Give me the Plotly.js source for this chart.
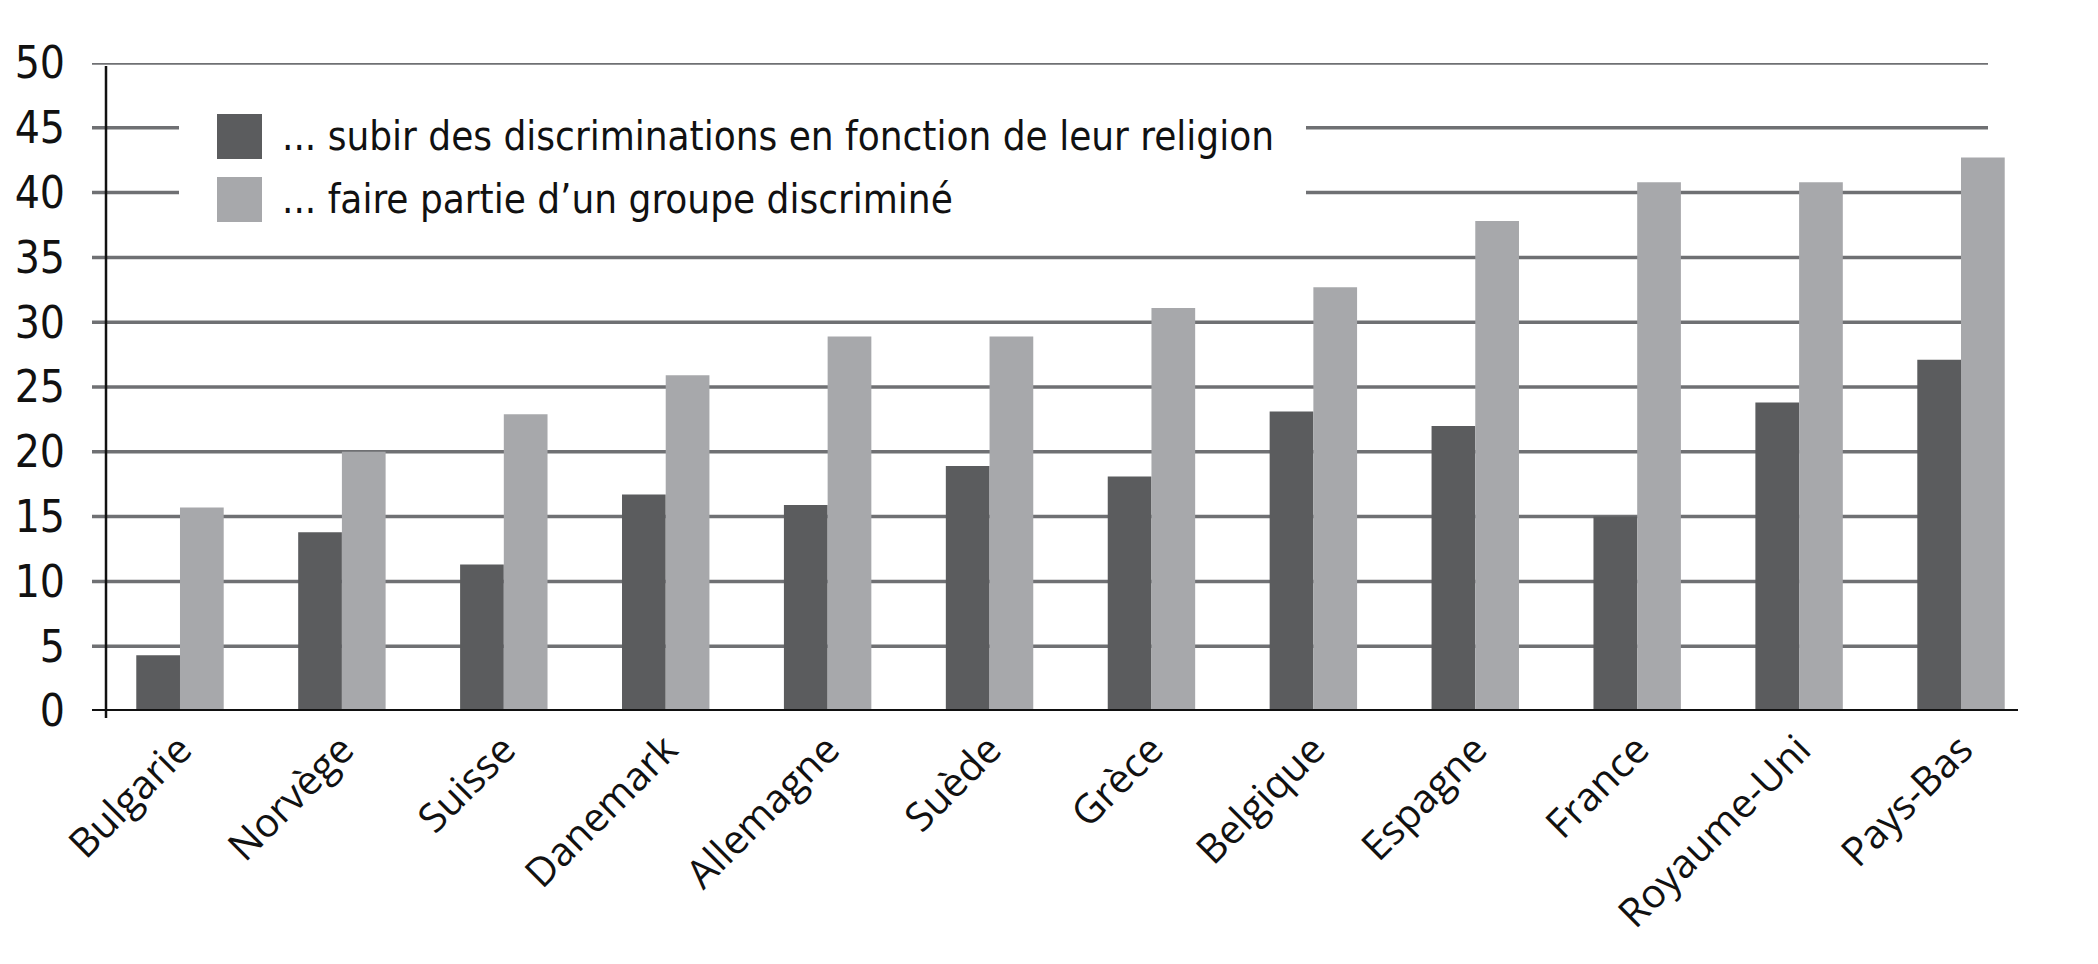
<!DOCTYPE html>
<html>
<head>
<meta charset="utf-8">
<script src="https://cdn.plot.ly/plotly-3.0.1.min.js"></script>
<style>
  html, body { margin: 0; padding: 0; background: #fff; }
  #chart { width: 2098px; height: 964px; }
</style>
</head>
<body>
<div id="chart"></div>
<script>
// data
const pays = ['Bulgarie', 'Norvège', 'Suisse', 'Danemark', 'Allemagne', 'Suède',
  'Grèce', 'Belgique', 'Espagne', 'France', 'Royaume-Uni', 'Pays-Bas'];
const religion = [4.3, 13.8, 11.3, 16.7, 15.9, 18.9, 18.1, 23.1, 22.0, 15.0, 23.8, 27.1];
const groupe = [15.7, 20.0, 22.9, 25.9, 28.9, 28.9, 31.1, 32.7, 37.8, 40.8, 40.8, 42.7];
const noms = ['... subir des discriminations en fonction de leur religion',
  '... faire partie d\u2019un groupe discriminé'];
const couleurs = ['#5b5c5e', '#a7a8ab'];
const yTicks = [0, 5, 10, 15, 20, 25, 30, 35, 40, 45, 50];

const W = 2098, H = 964;
const L = 106, R = 2018, T = 63, B = 711;   // zone du tracé en px
const px = x => (x - L) / (R - L);
const py = y => (B - y) / (B - T);

const police = '"Liberation Sans Narrow", "DejaVu Sans Condensed", Arial, sans-serif';

const traces = [religion, groupe].map((v, i) => ({
  type: 'bar',
  x: pays,
  y: v,
  name: noms[i],
  marker: { color: couleurs[i], line: { width: 0 } },
  showlegend: false,
  hoverinfo: 'x+y'
}));

// grille + axes
const shapes = [];
yTicks.filter(t => t > 0).forEach(t => {
  shapes.push({
    type: 'line', layer: 'below', xref: 'paper', yref: 'y',
    x0: px(92), x1: px(1988), y0: t, y1: t,
    line: { color: '#6f7073', width: 3.5 }
  });
});
// fond blanc de la légende
shapes.push({
  type: 'rect', layer: 'below', xref: 'paper', yref: 'paper',
  x0: px(179), x1: px(1306), y0: py(235), y1: py(100),
  fillcolor: '#fff', line: { width: 0 }
});
// carrés de légende
const legY = [136, 199];
noms.forEach((n, i) => {
  shapes.push({
    type: 'rect', layer: 'above', xref: 'paper', yref: 'paper',
    x0: px(217), x1: px(262), y0: py(legY[i] + 23), y1: py(legY[i] - 22),
    fillcolor: couleurs[i], line: { width: 0 }
  });
});
// ligne du zéro et axe vertical
shapes.push({
  type: 'line', layer: 'above', xref: 'paper', yref: 'y',
  x0: px(92), x1: px(2018), y0: 0, y1: 0,
  line: { color: '#111', width: 4 }
});
shapes.push({
  type: 'line', layer: 'above', xref: 'paper', yref: 'paper',
  x0: 0, x1: 0, y0: py(718), y1: py(66),
  line: { color: '#111', width: 2.5 }
});

const annotations = noms.map((n, i) => ({
  xref: 'paper', yref: 'paper',
  x: px(280), y: py(legY[i]),
  xanchor: 'left', yanchor: 'middle',
  text: n, showarrow: false,
  font: { family: police, size: 40, color: '#111' }
}));

const layout = {
  width: W, height: H,
  margin: { l: L, r: W - R, t: T, b: H - B, pad: 0 },
  paper_bgcolor: '#fff', plot_bgcolor: '#fff',
  barmode: 'group', bargap: 0.46, bargroupgap: 0,
  showlegend: false,
  font: { family: police, color: '#111' },
  xaxis: {
    type: 'category',
    range: [-0.457, 11.352],
    showgrid: false, zeroline: false, showline: false,
    ticks: '', tickangle: -45,
    tickfont: { family: '"Open Sans", "Noto Sans", sans-serif', size: 40, color: '#111' },
    ticklabelstandoff: 6
  },
  yaxis: {
    range: [0, 50],
    tickvals: yTicks,
    showgrid: false, zeroline: false, showline: false,
    ticks: '',
    tickfont: { family: police, size: 44, color: '#111' },
    ticklabelstandoff: 40
  },
  shapes: shapes,
  annotations: annotations
};

Plotly.newPlot('chart', traces, layout, { displayModeBar: false, staticPlot: true });
</script>
</body>
</html>
